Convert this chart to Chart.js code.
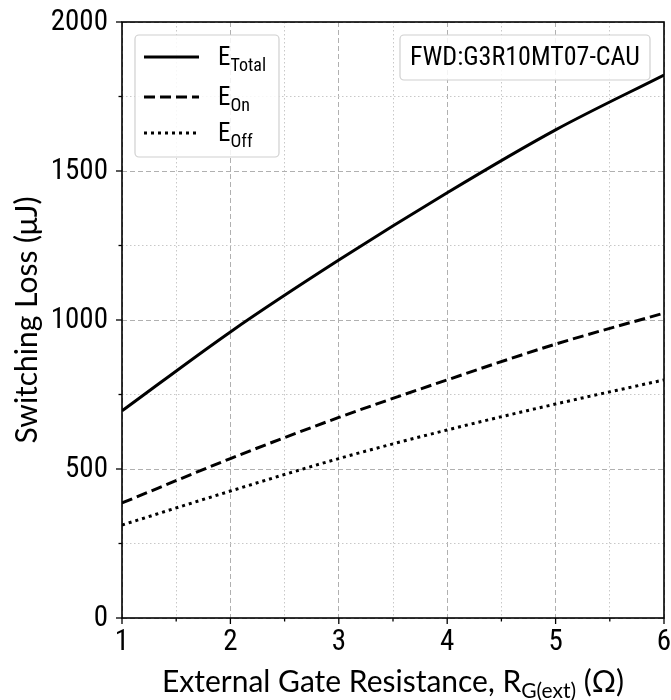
<!DOCTYPE html>
<html>
<head>
<meta charset="utf-8">
<script src="https://cdn.jsdelivr.net/npm/chart.js@4"></script>
<style>
  html, body { margin: 0; padding: 0; background: #fff; }
  #wrap { width: 671px; height: 700px; }
</style>
</head>
<body>
<div id="wrap"><canvas id="myChart" width="671" height="700"></canvas></div>
<script>
// gate resistance (ohm)
var rg = [1, 2, 3, 4, 5, 6];
// switching loss (uJ)
var eTotal = [695, 960, 1201, 1427, 1638, 1822];
var eOn = [386, 535, 673, 799, 919, 1023];
var eOff = [312, 426, 535, 631, 718, 799];

var seriesNames = ['Total', 'On', 'Off'];
var xTickLabels = ['1', '2', '3', '4', '5', '6'];
var yTickLabels = ['0', '500', '1000', '1500', '2000'];
var annotationText = 'FWD:G3R10MT07-CAU';

var numFont = '"Roboto Condensed", "Liberation Sans Narrow", "DejaVu Sans Condensed", Roboto, sans-serif';
var titleFont = 'Lato, "Open Sans", sans-serif';

function pts(ys) {
    return rg.map(function (x, i) { return { x: x, y: ys[i] }; });
}

// grid lines, ticks, frame, legend, axis titles
var decor = {
    id: 'decor',
    afterDraw: function (chart) {
        var c = chart.ctx;
        var a = chart.chartArea;
        var xs = chart.scales.x, ys = chart.scales.y;
        c.save();

        // frame
        c.strokeStyle = '#000';
        c.lineWidth = 1.6;
        c.setLineDash([]);
        c.strokeRect(a.left, a.top, a.right - a.left, a.bottom - a.top);

        // ticks
        c.lineWidth = 1.3;
        xs.ticks.forEach(function (t) {
            var px = xs.getPixelForValue(t.value);
            var len = (t.value % 1 === 0) ? 6 : 3.5;
            c.beginPath(); c.moveTo(px, a.bottom); c.lineTo(px, a.bottom + len); c.stroke();
        });
        ys.ticks.forEach(function (t) {
            var py = ys.getPixelForValue(t.value);
            var len = (t.value % 500 === 0) ? 6 : 3.5;
            c.beginPath(); c.moveTo(a.left, py); c.lineTo(a.left - len, py); c.stroke();
        });

        // tick labels
        c.fillStyle = '#000';
        c.font = '29px ' + numFont;
        c.textAlign = 'center';
        c.textBaseline = 'top';
        xTickLabels.forEach(function (l) {
            c.fillText(l, xs.getPixelForValue(Number(l)), a.bottom + 10);
        });
        c.textAlign = 'right';
        c.textBaseline = 'middle';
        yTickLabels.forEach(function (l) {
            c.fillText(l, a.left - 14, ys.getPixelForValue(Number(l)) + 1);
        });

        // y title
        c.save();
        c.translate(27, (a.top + a.bottom) / 2);
        c.rotate(-Math.PI / 2);
        c.textAlign = 'center';
        c.textBaseline = 'middle';
        c.font = '30px ' + titleFont;
        c.fillText('Switching Loss (\u03bcJ)', 0, 0);
        c.restore();

        // x title with subscript
        var parts = [['External Gate Resistance, R', 30, 0], ['G(ext)', 21, 6], [' (\u03a9)', 30, 0]];
        var total = 0;
        parts.forEach(function (p) { c.font = p[1] + 'px ' + titleFont; total += c.measureText(p[0]).width; });
        var x0 = (a.left + a.right) / 2 - total / 2;
        c.textAlign = 'left';
        c.textBaseline = 'alphabetic';
        parts.forEach(function (p) {
            c.font = p[1] + 'px ' + titleFont;
            c.fillText(p[0], x0, 692 + p[2]);
            x0 += c.measureText(p[0]).width;
        });

        // legend
        function roundBox(x, y, w, h, r) {
            c.beginPath();
            c.moveTo(x + r, y);
            c.arcTo(x + w, y, x + w, y + h, r);
            c.arcTo(x + w, y + h, x, y + h, r);
            c.arcTo(x, y + h, x, y, r);
            c.arcTo(x, y, x + w, y, r);
            c.closePath();
            c.fillStyle = 'rgba(255,255,255,0.85)';
            c.fill();
            c.strokeStyle = '#d0d0d0';
            c.lineWidth = 1.2;
            c.setLineDash([]);
            c.stroke();
        }
        roundBox(135, 35, 144, 122, 4);
        var rows = [57, 97, 133];
        chart.data.datasets.forEach(function (ds, i) {
            c.strokeStyle = '#000';
            c.lineWidth = ds.borderWidth;
            c.setLineDash(ds.borderDash || []);
            c.beginPath(); c.moveTo(144, rows[i]); c.lineTo(199, rows[i]); c.stroke();
            c.setLineDash([]);
            c.fillStyle = '#000';
            c.textAlign = 'left';
            c.textBaseline = 'alphabetic';
            c.font = '25px ' + numFont;
            c.fillText('E', 218, rows[i] + 8);
            var w = c.measureText('E').width;
            c.font = '18px ' + numFont;
            c.fillText(seriesNames[i], 218 + w, rows[i] + 14);
        });

        // annotation box
        roundBox(400, 35, 250, 45, 4);
        c.fillStyle = '#000';
        c.font = '26px ' + numFont;
        c.textAlign = 'center';
        c.textBaseline = 'middle';
        c.fillText(annotationText, 525, 58);

        c.restore();
    }
};

var ctx = document.getElementById('myChart').getContext('2d');
var chart = new Chart(ctx, {
    type: 'line',
    data: {
        datasets: [{
            label: 'E_Total',
            data: pts(eTotal),
            borderColor: '#000',
            borderWidth: 3,
            pointRadius: 0
        }, {
            label: 'E_On',
            data: pts(eOn),
            borderColor: '#000',
            borderWidth: 3,
            borderDash: [11, 5],
            pointRadius: 0
        }, {
            label: 'E_Off',
            data: pts(eOff),
            borderColor: '#000',
            borderWidth: 3,
            borderDash: [3, 4],
            pointRadius: 0
        }]
    },
    options: {
        responsive: false,
        animation: false,
        cubicInterpolationMode: 'monotone',
        layout: { padding: { top: 22, right: 7, left: 0, bottom: 0 } },
        plugins: { legend: { display: false }, tooltip: { enabled: false } },
        scales: {
            x: {
                type: 'linear',
                min: 1, max: 6,
                afterFit: function (s) { s.height = 82; },
                ticks: { stepSize: 0.5, display: false, autoSkip: false },
                grid: {
                    drawTicks: false,
                    color: function (c) { return c.tick && c.tick.value % 1 === 0 ? '#b0b0b0' : '#c8c8c8'; },
                    lineWidth: 1
                },
                border: {
                    display: false,
                    dash: function (c) { return c.tick && c.tick.value % 1 === 0 ? [5, 3] : [1.5, 2.5]; }
                }
            },
            y: {
                min: 0, max: 2000,
                afterFit: function (s) { s.width = 122; },
                ticks: { stepSize: 250, display: false, autoSkip: false },
                grid: {
                    drawTicks: false,
                    color: function (c) { return c.tick && c.tick.value % 500 === 0 ? '#b0b0b0' : '#c8c8c8'; },
                    lineWidth: 1
                },
                border: {
                    display: false,
                    dash: function (c) { return c.tick && c.tick.value % 500 === 0 ? [5, 3] : [1.5, 2.5]; }
                }
            }
        }
    },
    plugins: [decor]
});
</script>
</body>
</html>
